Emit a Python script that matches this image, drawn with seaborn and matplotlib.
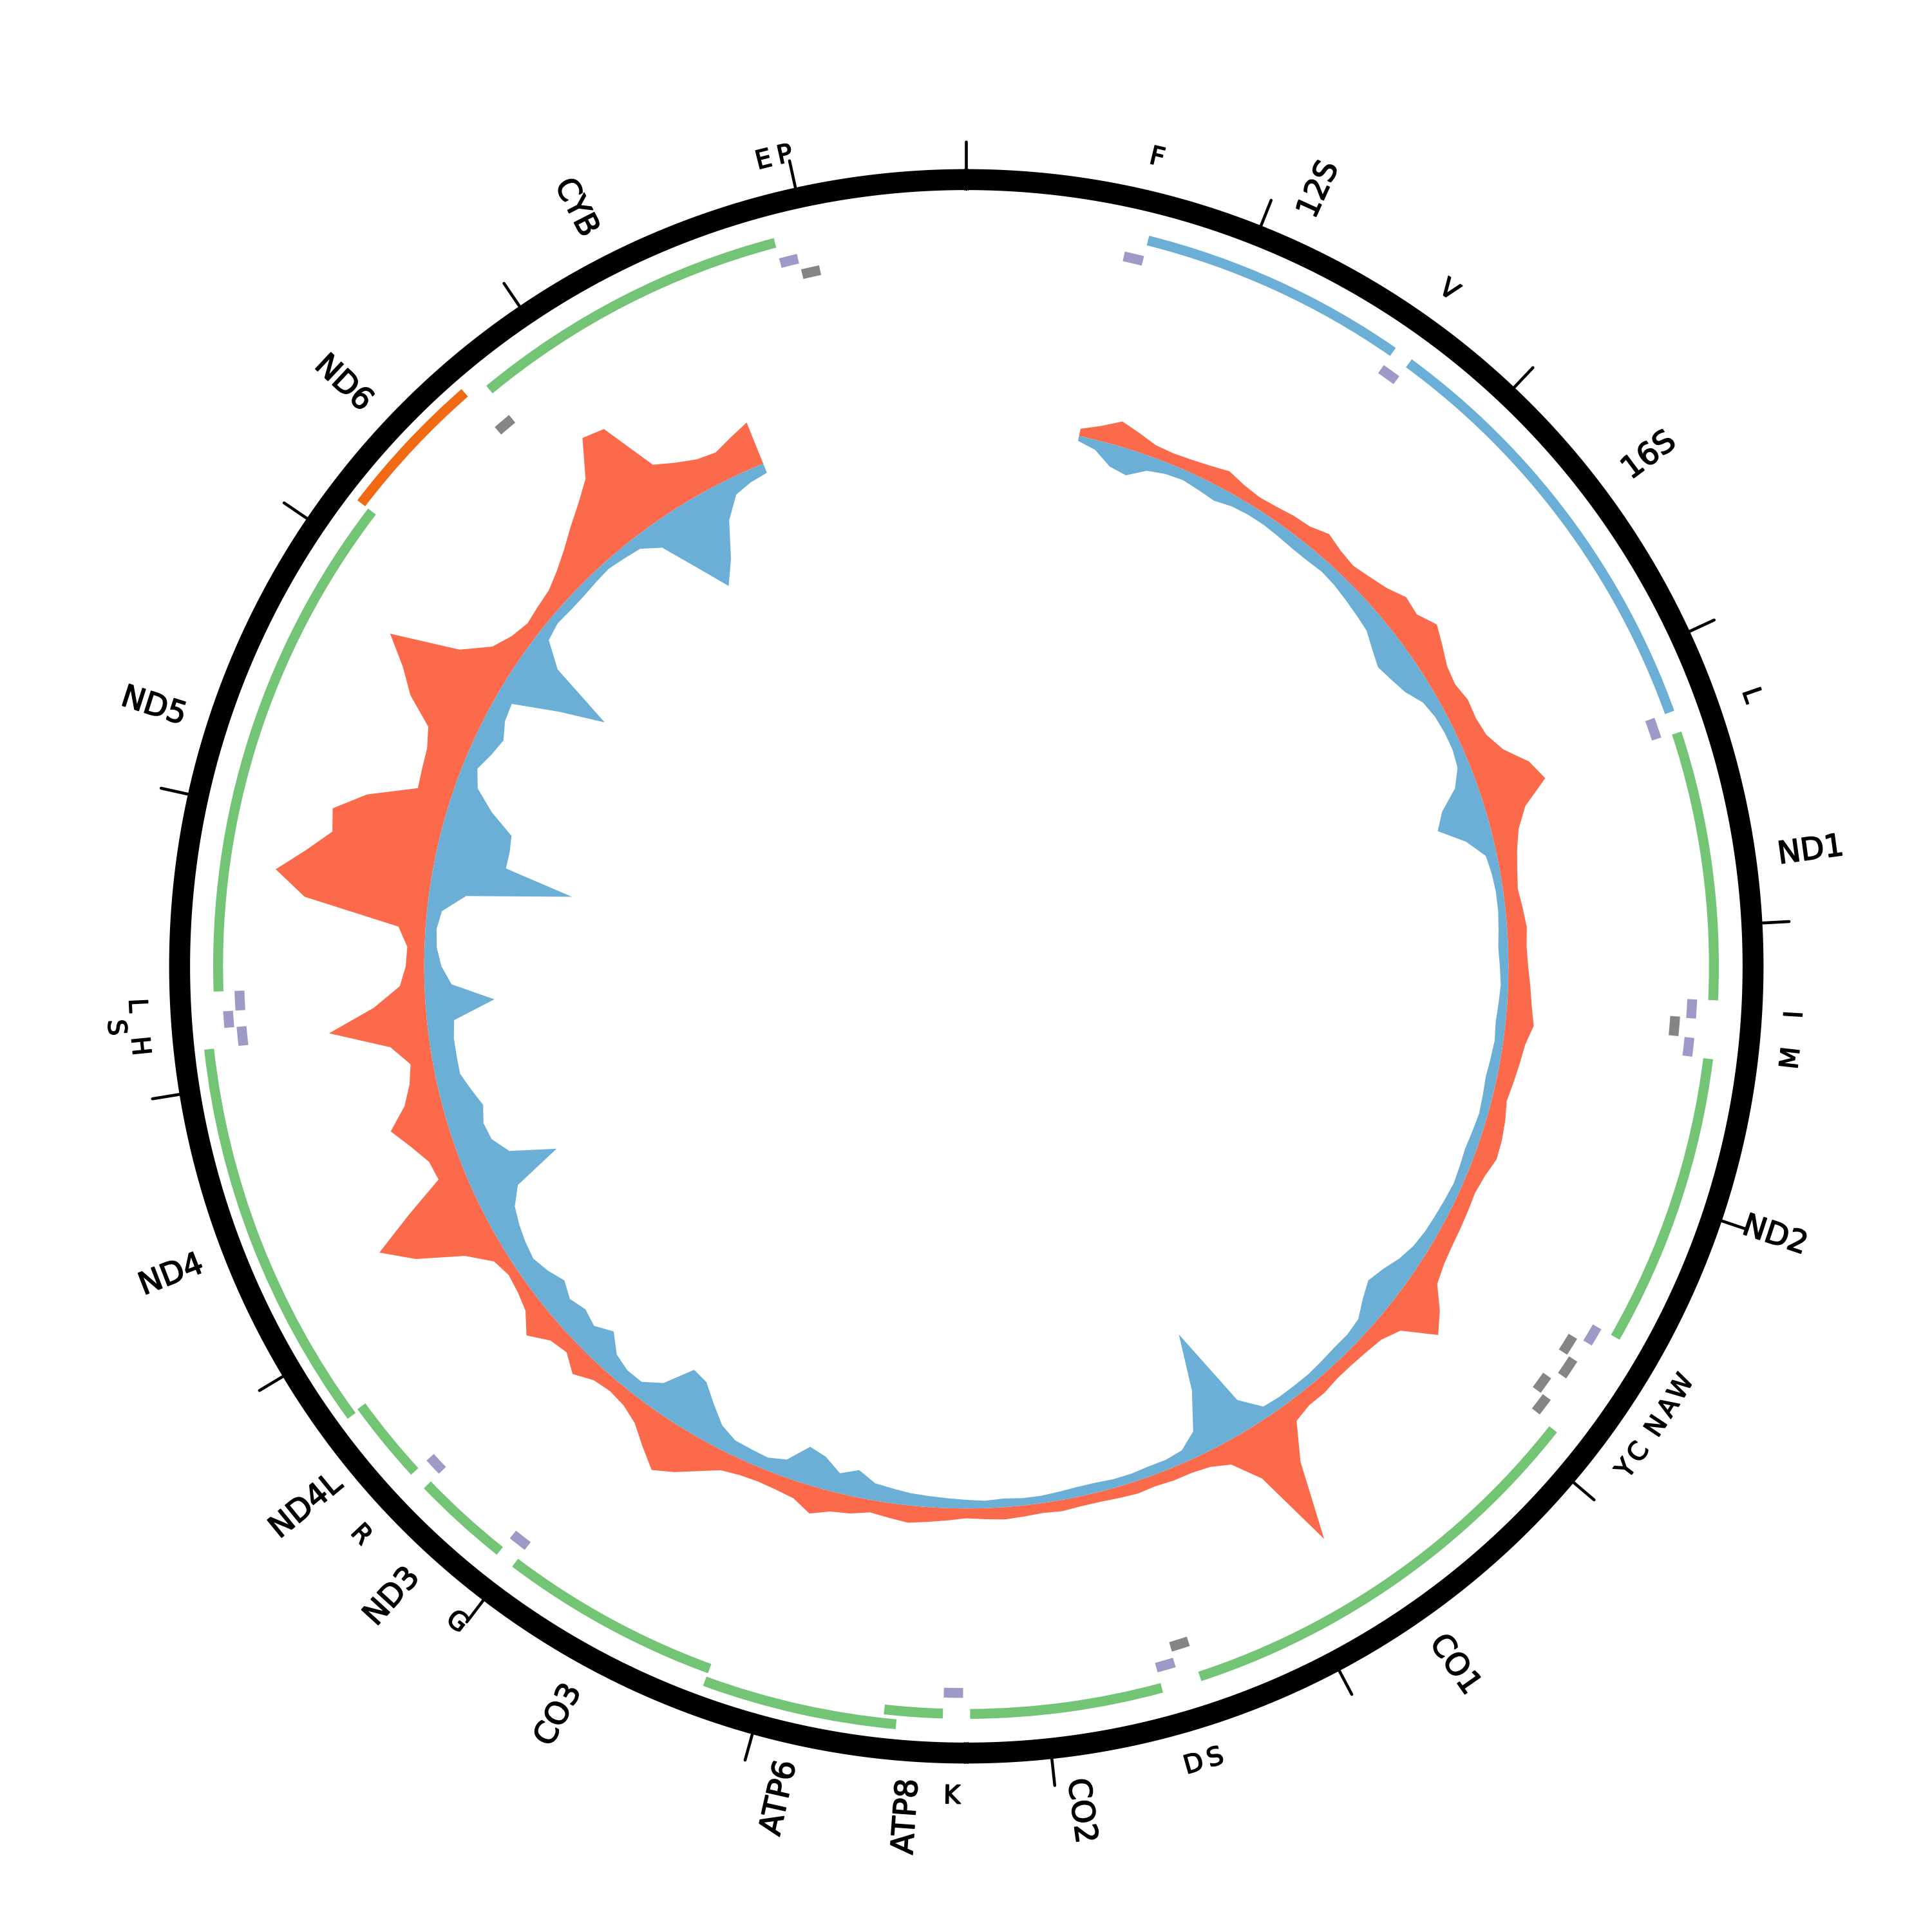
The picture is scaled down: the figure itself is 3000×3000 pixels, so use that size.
import numpy as np
import matplotlib
matplotlib.use("Agg")
import matplotlib.pyplot as plt
import matplotlib.patheffects as pe
import seaborn as sns

GENOME_LEN = 16569

# protein coding genes and rRNAs (rCRS coordinates)
gene_names = ["12S", "16S", "ND1", "ND2", "CO1", "CO2", "ATP8", "ATP6", "CO3",
              "ND3", "ND4L", "ND4", "ND5", "ND6", "CYB"]
gene_starts = [648, 1671, 3307, 4470, 5904, 7586, 8366, 8527, 9207,
               10059, 10470, 10760, 12337, 14149, 14747]
gene_ends = [1601, 3229, 4262, 5511, 7445, 8269, 8572, 9207, 9990,
             10404, 10766, 12137, 14148, 14673, 15887]
gene_kind = ["rRNA", "rRNA", "H", "H", "H", "H", "H", "H", "H",
             "H", "H", "H", "H", "L", "H"]

# tRNAs
trna_starts = [577, 1602, 3230, 4263, 4329, 4402, 5512, 5587, 5657, 5761, 5826,
               7446, 7518, 8295, 9991, 10405, 12138, 12207, 12266, 14674, 15888, 15956]
trna_ends = [647, 1670, 3304, 4331, 4400, 4469, 5579, 5655, 5729, 5826, 5891,
             7514, 7585, 8364, 10058, 10469, 12206, 12265, 12336, 14742, 15953, 16023]
trna_strand = ["H", "H", "H", "H", "L", "H", "H", "L", "L", "L", "L",
               "L", "H", "H", "H", "H", "H", "H", "H", "L", "H", "L"]
trna_labels = ["F", "V", "L", "I", "", "M", "W", "A", "N", "C", "Y",
               "S", "D", "K", "G", "R", "H", "S", "L", "", "E", "P"]

# read depth, sampled every 2 degrees from 12 to 338 degrees
cov_deg = np.arange(12, 339, 2)
fwd_depth = [6, 12, 20, 15, 10, 9, 10, 12, 15, 11, 9, 10, 12, 13, 18, 14, 12, 15, 19, 26,
             24, 32, 26, 20, 18, 21, 20, 22, 30, 46, 54, 32, 22, 17, 14, 12, 14, 16, 15, 16,
             18, 20, 23, 18, 16, 14, 12, 15, 17, 18, 14, 12, 13, 14, 15, 17, 21, 35, 46, 20,
             13, 11, 10, 10, 12, 12, 16, 45, 108, 40, 18, 12, 10, 10, 9, 10, 9, 8, 8, 9,
             8, 9, 10, 9, 8, 10, 12, 14, 12, 10, 14, 16, 22, 14, 12, 11, 12, 15, 24, 34,
             42, 30, 18, 12, 10, 12, 20, 11, 14, 26, 14, 10, 8, 12, 30, 66, 90, 55, 22, 24,
             34, 46, 30, 22, 18, 32, 80, 42, 20, 15, 14, 22, 100, 126, 104, 86, 90, 66, 28, 30,
             32, 38, 62, 78, 100, 45, 24, 16, 12, 14, 16, 22, 30, 40, 50, 62, 90, 86, 40, 32,
             26, 24, 30, 36]
rev_depth = [4, 8, 18, 21, 12, 9, 8, 10, 12, 9, 8, 8, 9, 10, 10, 9, 10, 12, 14, 16,
             22, 27, 24, 20, 12, 9, 8, 8, 10, 18, 34, 42, 22, 9, 7, 6, 6, 7, 8, 7,
             6, 7, 8, 7, 8, 9, 8, 7, 8, 9, 8, 7, 8, 9, 10, 12, 16, 22, 26, 20,
             12, 10, 10, 9, 8, 8, 8, 9, 25, 95, 50, 20, 10, 8, 8, 7, 7, 8, 8, 7,
             6, 6, 7, 6, 7, 8, 9, 10, 12, 14, 22, 16, 26, 30, 14, 10, 11, 12, 18, 30,
             42, 45, 22, 12, 12, 16, 28, 20, 24, 20, 26, 20, 16, 18, 21, 25, 35, 76, 40, 30,
             28, 32, 26, 20, 20, 20, 22, 56, 22, 14, 10, 9, 12, 30, 115, 58, 58, 56, 35, 18,
             12, 18, 22, 16, 14, 50, 86, 30, 10, 7, 8, 8, 7, 6, 8, 10, 20, 50, 76, 58,
             30, 14, 10, 8]

tick_bp = np.arange(0, 16001, 1000)

# colours
sns.set_theme(style="white")
plt.rcParams["font.family"] = ["DejaVu Sans"]
pal = {
    "rRNA": "#6baed6",
    "H": "#74c476",
    "L": "#f16913",
    "trnaH": "#9e9ac8",
    "trnaL": "#858585",
    "fwd": "#fb6a4a",
    "rev": "#6baed6",
}

R_BASE = 440
R_RING = (630, 647)
R_GENE = 607
R_TRNA = {"H": 590, "L": 577}
BUMP = 11
heavy = [pe.withStroke(linewidth=0.4, foreground="black")]


def to_theta(bp):
    return np.asarray(bp) / GENOME_LEN * 2 * np.pi


def stack_levels(starts, ends):
    # push a feature outwards when it touches the previous one
    levels = []
    prev_end, prev_level = -100, 1
    for s, e in zip(starts, ends):
        lvl = 1 if (s <= prev_end + 2 and prev_level == 0) else 0
        levels.append(lvl)
        prev_end, prev_level = e, lvl
    return levels


def radial_rot(deg):
    return 90 - deg if deg <= 180 else 270 - deg


def tangent_rot(deg):
    return 180 - deg if 90 < deg < 270 else -deg


fig = plt.figure(figsize=(10, 10), dpi=300)
ax = fig.add_axes([0, 0, 1, 1], projection="polar")
ax.set_theta_zero_location("N")
ax.set_theta_direction(-1)
ax.set_ylim(0, 784)
ax.axis("off")

# coverage
theta = np.deg2rad(cov_deg)
fwd = np.array(fwd_depth)
rev = np.array(rev_depth)
ax.fill_between(theta, R_BASE, R_BASE + fwd, color=pal["fwd"], lw=0)
ax.fill_between(theta, R_BASE - rev, R_BASE, color=pal["rev"], lw=0)

# outer ring and ticks
full = np.linspace(0, 2 * np.pi, 1441)
ax.fill_between(full, R_RING[0], R_RING[1], color="black", lw=0)
for t in to_theta(tick_bp):
    ax.plot([t, t], [R_RING[1], 669], color="black", lw=1.1, solid_capstyle="round")

# genes
glev = stack_levels(gene_starts, gene_ends)
for name, s, e, kind, lvl in zip(gene_names, gene_starts, gene_ends, gene_kind, glev):
    t0, t1 = to_theta([s, e + 1])
    r = R_GENE + BUMP * lvl
    ax.bar((t0 + t1) / 2, 8, width=t1 - t0, bottom=r - 4,
           color=pal[kind], linewidth=0)
    mid = (s + e) / 2 / GENOME_LEN * 360
    ax.text(np.deg2rad(mid), 692, name, fontsize=11.5, path_effects=heavy,
            rotation=radial_rot(mid), rotation_mode="anchor",
            ha="center", va="center", color="black")

# tRNAs
for strand in ["H", "L"]:
    idx = [i for i, st in enumerate(trna_strand) if st == strand]
    lv = stack_levels([trna_starts[i] for i in idx], [trna_ends[i] for i in idx])
    for i, lvl in zip(idx, lv):
        s, e = trna_starts[i], trna_ends[i]
        t0, t1 = to_theta([s, e + 1])
        r = R_TRNA[strand] + (BUMP - 1) * lvl
        ax.bar((t0 + t1) / 2, 8, width=t1 - t0, bottom=r - 4,
               color=pal["trna" + strand], linewidth=0)
        lab = trna_labels[i]
        if lab:
            mid = (s + e) / 2 / GENOME_LEN * 360
            rl = 674 + (18 if (lvl and strand == "H") else 0)
            ax.text(np.deg2rad(mid), rl, lab, fontsize=9.5, path_effects=heavy,
                    rotation=tangent_rot(mid), rotation_mode="anchor",
                    ha="center", va="center", color="black")

fig.savefig("out.png", dpi=300, facecolor="white")
